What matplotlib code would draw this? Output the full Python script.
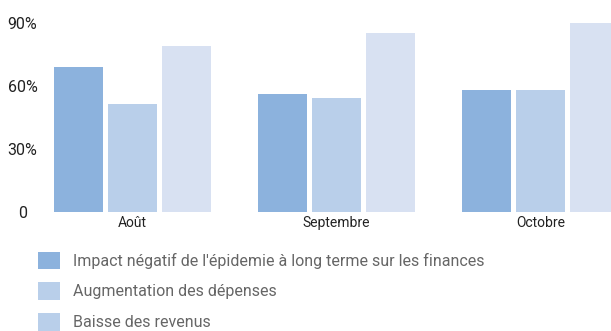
import numpy as np
import matplotlib.pyplot as plt
from matplotlib.patches import Patch

plt.rcParams['font.family'] = ['Roboto', 'DejaVu Sans']

# Share of respondents per month
months = ['Août', 'Septembre', 'Octobre']
impact_long_terme = [69, 56, 58]
hausse_depenses = [51, 54, 58]
baisse_revenus = [79, 85, 90]

series_labels = ["Impact négatif de l'épidemie à long terme sur les finances",
                 "Augmentation des dépenses",
                 "Baisse des revenus"]
bar_colors = ['#8cb2dd', '#b9cfea', '#d8e1f2']
legend_colors = ['#8cb2dd', '#b9cfea', '#b9cfea']

yticks = [0, 30, 60, 90]
ytick_labels = ['0', '30%', '60%', '90%']

W, H = 611, 331
fig = plt.figure(figsize=(W / 100, H / 100), dpi=100)

# axes placed in pixel terms: 0% at y=211.7, 100% 210 px above
ax_left, ax_bottom = 50, H - 211.7
ax = fig.add_axes([ax_left / W, ax_bottom / H, (W - ax_left) / W, 210.2 / H])

x = np.arange(len(months))
step = 0.266
width = 0.239
for i, vals in enumerate([impact_long_terme, hausse_depenses, baisse_revenus]):
    ax.bar(x + (i - 1) * step, vals, width, color=bar_colors[i])

ax.set_xlim(-0.404, 2.346)
ax.set_ylim(0, 100)

ax.set_xticks(x)
ax.set_xticklabels(months, fontsize=10, color='#222222')
ax.set_yticks(yticks)
ax.set_yticklabels(ytick_labels, fontsize=11.5, color='#222222')
ax.tick_params(axis='x', length=0, pad=3)
ax.tick_params(axis='y', length=0, pad=19.8)
for lab in ax.get_yticklabels():
    lab.set_horizontalalignment('center')

for s in ax.spines.values():
    s.set_visible(False)

handles = [Patch(facecolor=c, edgecolor='none') for c in legend_colors]
fs = 11.5
fs_px = fs * 100 / 72
fig.legend(handles, series_labels, loc='upper left',
           bbox_to_anchor=(38 / W, (H - 251.5) / H), frameon=False,
           fontsize=fs, labelcolor='#666666', borderpad=0, borderaxespad=0,
           handlelength=22 / fs_px, handleheight=21 / fs_px,
           handletextpad=12.7 / fs_px, labelspacing=13.3 / fs_px)

fig.savefig('out.png', dpi=100)
